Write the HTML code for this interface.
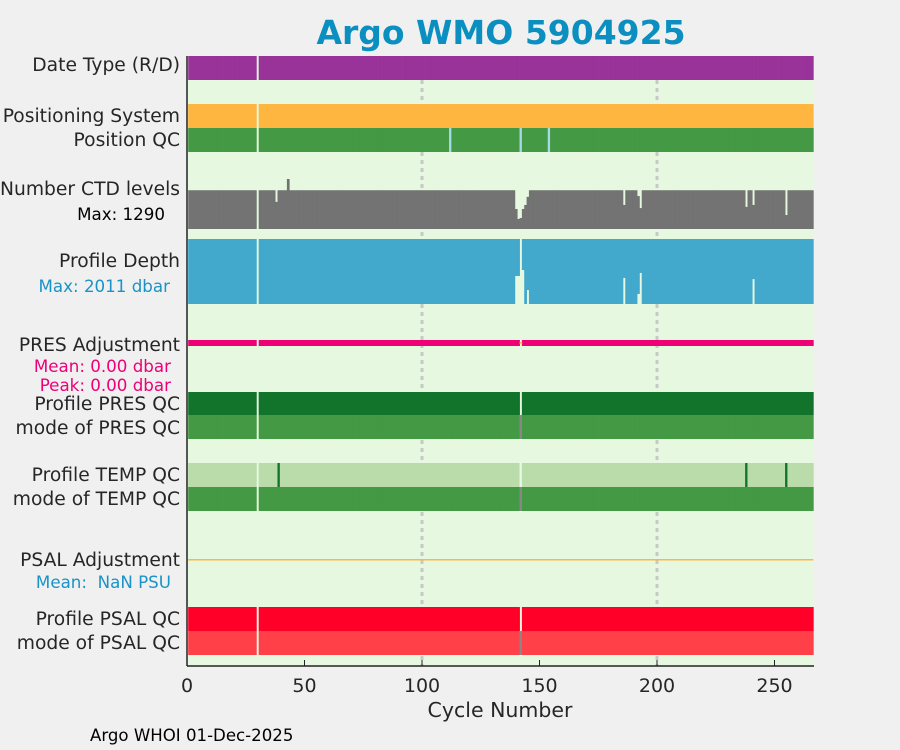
<!DOCTYPE html>
<html><head><meta charset="utf-8"><style>
body{margin:0;background:#f0f0f0;}
svg{display:block;font-family:"DejaVu Sans","Liberation Sans",sans-serif;}
</style></head><body>
<svg id="chart" width="900" height="750" viewBox="0 0 900 750">
<rect width="900" height="750" fill="#f0f0f0"/>
<text x="501" y="44" text-anchor="middle" font-size="33" font-weight="bold" fill="#0a8fc0">Argo WMO 5904925</text>
<rect x="187" y="56" width="627" height="610" fill="#e6f9e0"/>
<g id="grid"></g>
<g id="marks"></g>
<line x1="187" y1="56" x2="187" y2="666" stroke="#222" stroke-width="1.5"/>
<line x1="187" y1="666" x2="814" y2="666" stroke="#222" stroke-width="1.5"/>
<g id="xticks"></g>
<g font-size="18.7" fill="#262626" text-anchor="end">
<text x="180" y="71">Date Type (R/D)</text>
<text x="180" y="122">Positioning System</text>
<text x="180" y="146">Position QC</text>
<text x="180" y="195">Number CTD levels</text>
<text x="165" y="220" font-size="16.7" fill="#000">Max: 1290</text>
<text x="180" y="267">Profile Depth</text>
<text x="170" y="292" font-size="16.7" fill="#1a93c6">Max: 2011 dbar</text>
<text x="180" y="351">PRES Adjustment</text>
<text x="171" y="372" font-size="16.7" fill="#ee0077">Mean: 0.00 dbar</text>
<text x="171" y="391" font-size="16.7" fill="#ee0077">Peak: 0.00 dbar</text>
<text x="180" y="410">Profile PRES QC</text>
<text x="180" y="434">mode of PRES QC</text>
<text x="180" y="481">Profile TEMP QC</text>
<text x="180" y="505">mode of TEMP QC</text>
<text x="180" y="566">PSAL Adjustment</text>
<text x="171" y="588" font-size="16.7" fill="#1a93c6" xml:space="preserve">Mean:  NaN PSU</text>
<text x="180" y="625">Profile PSAL QC</text>
<text x="180" y="649">mode of PSAL QC</text>
</g>
<text x="500" y="717" text-anchor="middle" font-size="20.5" fill="#262626">Cycle Number</text>
<text x="90" y="741" font-size="16.6" fill="#000">Argo WHOI 01-Dec-2025</text>
</svg>
<script>
const nCycles = 266;
const missingCycles = [30];
const ctdDefault = 1000;
const ctdExceptionCycles = [38, 43, 140, 141, 142, 143, 144, 145, 186, 192, 193, 238, 241, 255];
const ctdExceptionValues = [700, 1290, 516, 258, 284, 516, 620, 830, 620, 850, 540, 570, 620, 360];
const ctdMax = 1290;
const depthDefault = 2011;
const depthExceptionCycles = [140, 141, 143, 145, 186, 192, 193, 241];
const depthExceptionValues = [1145, 1145, 960, 1580, 1205, 1700, 1050, 1240];
const depthMax = 2011;
const posQcFlagCycles = [112, 142, 154];
const tempQcFlagCycles = [39, 238, 255];
const qcGapCycles = [142];
const xTicks = [0, 50, 100, 150, 200, 250];
const gridCycles = [100, 200];

const NS = 'http://www.w3.org/2000/svg';
const x0 = 187, pxPer = 2.35;
function xs(c){ return x0 + c * pxPer; }
const marks = document.getElementById('marks');
function rect(x, y, w, h, fill, name){
  const r = document.createElementNS(NS, 'rect');
  r.setAttribute('x', x); r.setAttribute('y', y);
  r.setAttribute('width', w); r.setAttribute('height', h);
  r.setAttribute('fill', fill);
  
  
  marks.appendChild(r);
  return r;
}
function val(c, cyc, vals, def){ const i = cyc.indexOf(c); return i >= 0 ? vals[i] : def; }
function band(y, h, color, name, special){
  for (let c = 1; c <= nCycles; c++){
    if (missingCycles.includes(c)) continue;
    let col = color;
    if (special){ const s = special(c); if (s === null) continue; if (s) col = s; }
    rect(xs(c - 0.5), y, pxPer + 0.4, h, col, name);
  }
}
const grid = document.getElementById('grid');
gridCycles.forEach(g => {
  const l = document.createElementNS(NS, 'line');
  l.setAttribute('x1', xs(g)); l.setAttribute('x2', xs(g));
  l.setAttribute('y1', 56); l.setAttribute('y2', 666);
  l.setAttribute('stroke', '#c8c8c8'); l.setAttribute('stroke-width', 3);
  l.setAttribute('stroke-dasharray', '4 4');
  
  
  grid.appendChild(l);
});
band(56, 24, '#993399', 'date-type-bar');
band(104, 24, '#ffb640', 'positioning-system-bar');
band(128, 24, '#449944', 'position-qc-bar', c => posQcFlagCycles.includes(c) ? '#a6d8e8' : '');
for (let c = 1; c <= nCycles; c++){
  if (missingCycles.includes(c)) continue;
  const v = val(c, ctdExceptionCycles, ctdExceptionValues, ctdDefault);
  const h = v / ctdMax * 50;
  rect(xs(c - 0.5), 229 - h, pxPer + 0.4, h, '#737373', 'ctd-levels-bar');
}
for (let c = 1; c <= nCycles; c++){
  if (missingCycles.includes(c) || qcGapCycles.includes(c)) continue;
  const v = Math.min(val(c, depthExceptionCycles, depthExceptionValues, depthDefault), depthMax);
  const h = v / depthMax * 65;
  rect(xs(c - 0.5), 239, pxPer + 0.4, h, '#42a8cc', 'profile-depth-bar');
}
band(340, 6, '#ee0077', 'pres-adjustment-bar', c => qcGapCycles.includes(c) ? null : '');
rect(xs(141.5), 342, pxPer + 0.4, 1.5, '#ffb640', 'pres-adjustment-zero');
band(392, 23, '#12742a', 'profile-pres-qc-bar', c => qcGapCycles.includes(c) ? null : '');
band(415, 24, '#449944', 'mode-pres-qc-bar', c => qcGapCycles.includes(c) ? '#888' : '');
band(463, 24, '#b9dcaa', 'profile-temp-qc-bar', c => qcGapCycles.includes(c) ? '#e6f9e0' : (tempQcFlagCycles.includes(c) ? '#12742a' : ''));
band(487, 24, '#449944', 'mode-temp-qc-bar', c => qcGapCycles.includes(c) ? '#888' : '');
rect(xs(0.5), 559, xs(nCycles + 0.5) - xs(0.5), 1.5, '#ffb640', 'psal-adjustment-line');
band(607, 24, '#ff0028', 'profile-psal-qc-bar', c => qcGapCycles.includes(c) ? null : '');
band(631, 24, '#ff4049', 'mode-psal-qc-bar', c => qcGapCycles.includes(c) ? '#888' : '');
const xt = document.getElementById('xticks');
xTicks.forEach(t => {
  const l = document.createElementNS(NS, 'line');
  l.setAttribute('x1', xs(t)); l.setAttribute('x2', xs(t));
  l.setAttribute('y1', 666); l.setAttribute('y2', 660);
  l.setAttribute('stroke', '#222');
  
  
  xt.appendChild(l);
  const tx = document.createElementNS(NS, 'text');
  tx.setAttribute('x', xs(t)); tx.setAttribute('y', 692);
  tx.setAttribute('text-anchor', 'middle'); tx.setAttribute('font-size', 19);
  tx.setAttribute('fill', '#262626');
  
  
  tx.textContent = t;
  xt.appendChild(tx);
});
</script>
</body></html>
